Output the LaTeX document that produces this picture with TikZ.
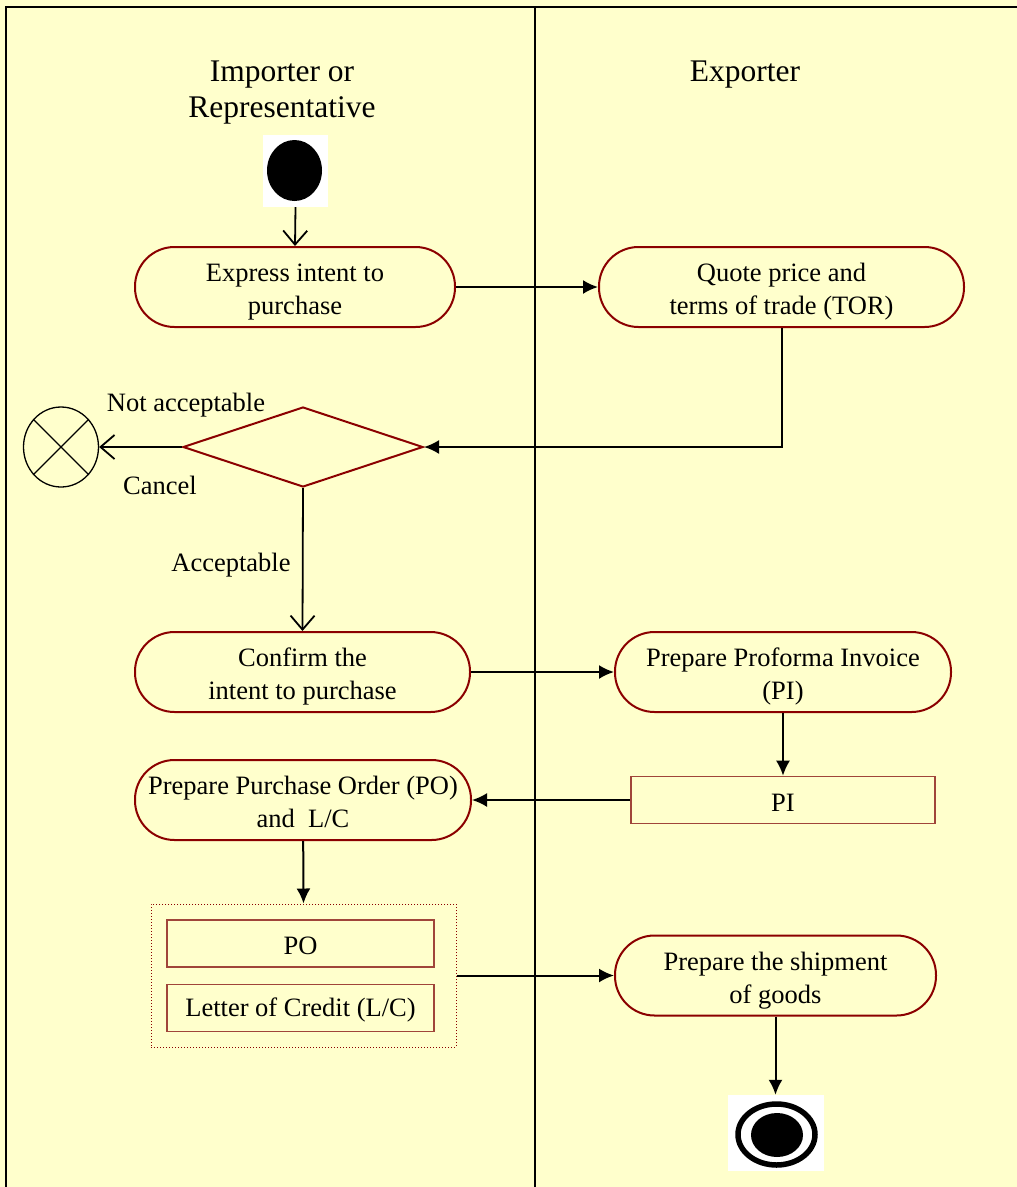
\documentclass[tikz,border=0pt]{standalone}
\usepackage{fontspec}
\setmainfont{Liberation Serif}
\usetikzlibrary{shapes.geometric,arrows.meta}
\definecolor{bgyellow}{HTML}{FFFFCC}
\definecolor{boxred}{HTML}{8B0000}
\definecolor{docred}{HTML}{A0453A}
\tikzset{
  actbox/.style={draw=boxred, line width=2pt, rounded corners=39.5pt, minimum height=80pt, inner sep=0pt, align=center, font=\bodyfont, text height=61pt, text depth=6pt},
  docbox/.style={draw=docred, line width=1.6pt, minimum height=47pt, inner sep=0pt, align=center, font=\bodyfont, execute at begin node={\rule{0pt}{23pt}}},
  arr/.style={line width=2pt, -{Latex[length=15pt,width=14pt]}},
  oarr/.style={line width=1.8pt, -{Straight Barb[length=14pt,width=24pt,line width=1.8pt]}},
  lbl/.style={inner sep=0pt, font=\bodyfont},
  hdr/.style={inner sep=0pt, align=center, font=\hdrfont},
}
\newcommand{\bodyfont}{\fontsize{26.5}{33}\selectfont}
\newcommand{\hdrfont}{\fontsize{31.5}{36}\selectfont}
\begin{document}
\begin{tikzpicture}[x=1pt,y=-1pt]
\useasboundingbox (0,0) rectangle (1017,1187);
\fill[bgyellow] (0,0) rectangle (1017,1187);
% frame and lane divider
\draw[line width=2.5pt] (6,1190) -- (6,7) -- (1020,7);
\draw[line width=2.5pt] (535,7) -- (535,1190);
% headers
\node[hdr] (himp) at (282,92.5) {Importer or\\Representative};
\node[hdr] (hexp) at (745,74.5) {Exporter};
% start
\node[fill=white, minimum width=65pt, minimum height=72pt, inner sep=0pt] (start) at (295.5,171) {};
\fill[black] (294.5,170.5) ellipse [x radius=27.5, y radius=30.5];
% activities
\node[actbox, minimum width=320pt] (express) at (295,287) {Express intent to\\purchase};
\node[actbox, minimum width=365pt] (quote) at (781.5,287) {Quote price and\\terms of trade (TOR)};
\node[draw=boxred, line width=2pt, shape=diamond, aspect=3, minimum width=240pt, minimum height=80pt, inner sep=0pt] (dec) at (303,447) {};
\node[draw=black, line width=1.3pt, shape=ellipse, minimum width=75pt, minimum height=80pt, inner sep=0pt] (cx) at (61,447) {};
\draw[line width=1.3pt] (cx.45) -- (cx.225) (cx.135) -- (cx.-45);
\node[actbox, minimum width=335pt] (confirm) at (302.5,672) {Confirm the\\intent to purchase};
\node[actbox, minimum width=336pt] (proforma) at (783,672) {Prepare Proforma Invoice\\(PI)};
\node[docbox, minimum width=304pt] (pi) at (783,800) {PI};
\node[actbox, minimum width=336pt] (pobox) at (303,800) {Prepare Purchase Order (PO)\\and~ L/C};
\node[draw=boxred, line width=1pt, dotted, minimum width=305pt, minimum height=143pt, inner sep=0pt] (docs) at (303.5,975.5) {};
\node[docbox, minimum width=267pt] (po) at (300.5,943.5) {PO};
\node[docbox, minimum width=267pt] (lc) at (300.5,1008) {Letter of Credit (L/C)};
\node[actbox, minimum width=321pt] (ship) at (775.5,975.5) {Prepare the shipment\\of goods};
% end
\node[fill=white, minimum width=96pt, minimum height=76pt, inner sep=0pt] (endn) at (775.5,1133) {};
\draw[line width=5.5pt] (776.5,1134.5) ellipse [x radius=38.5, y radius=30.5];
\fill[black] (777,1135) ellipse [x radius=26, y radius=22];
% labels
\node[lbl] (lna) at (186,405) {Not acceptable};
\node[lbl] (lcan) at (160,485) {Cancel};
\node[lbl] (lacc) at (231,565) {Acceptable};
% connectors
\draw[oarr] (start.south) -- (express.north);
\draw[arr] (express) -- (quote);
\draw[arr] (quote.south) |- (dec.east);
\draw[oarr] (dec.west) -- (cx.east);
\draw[oarr] (dec.south) -- (confirm.north);
\draw[arr] (confirm) -- (proforma);
\draw[arr] (proforma) -- (pi);
\draw[arr] (pi) -- (pobox);
\draw[arr] (pobox) -- (docs.north);
\draw[arr] (docs) -- (ship);
\draw[arr] (ship) -- (endn);
\end{tikzpicture}
\end{document}
